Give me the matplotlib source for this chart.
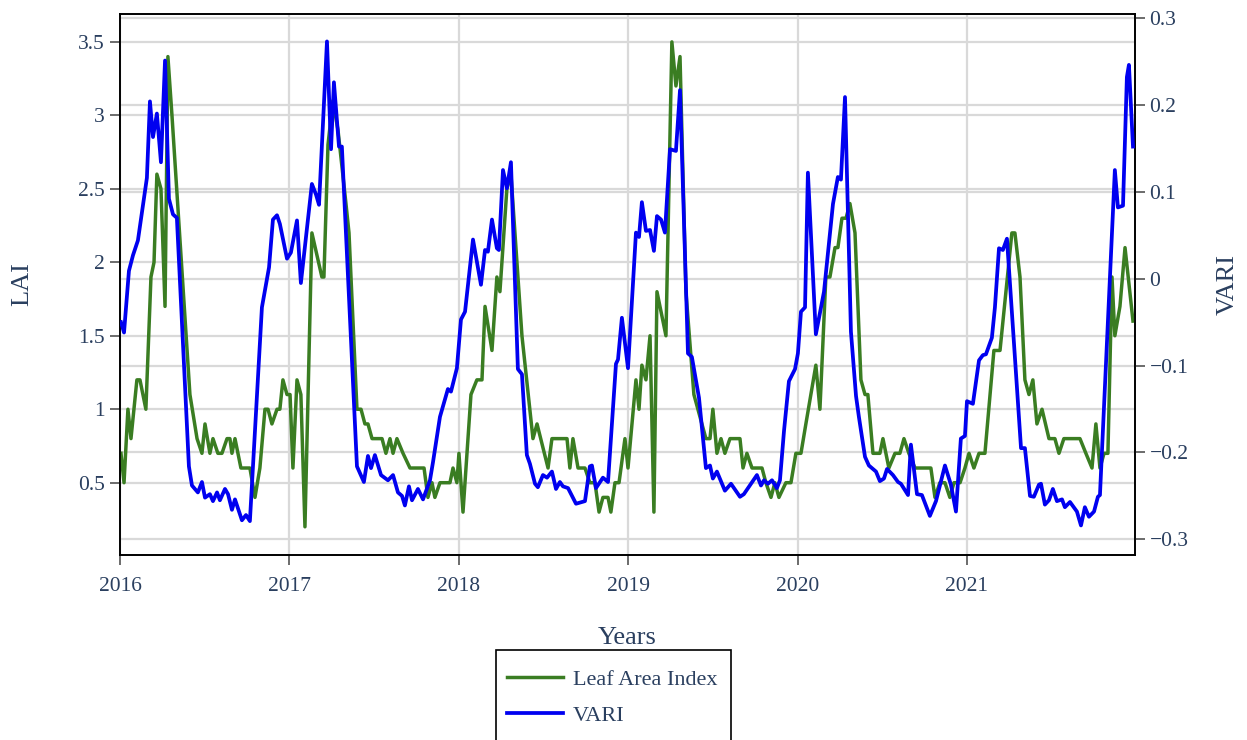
import matplotlib.pyplot as plt
from matplotlib.patches import Rectangle
from matplotlib.ticker import FuncFormatter
from matplotlib.transforms import blended_transform_factory

# Leaf Area Index (decimal year, value)
lai_years = [
    2016.006, 2016.024, 2016.047, 2016.065, 2016.100, 2016.118, 2016.153, 2016.183,
    2016.201, 2016.218, 2016.242, 2016.266, 2016.283, 2016.307, 2016.413, 2016.455,
    2016.484, 2016.502, 2016.531, 2016.549, 2016.578, 2016.602, 2016.632, 2016.649,
    2016.661, 2016.679, 2016.714, 2016.767, 2016.797, 2016.826, 2016.856, 2016.874,
    2016.897, 2016.927, 2016.944, 2016.962, 2016.986,
    2017.004, 2017.021, 2017.045, 2017.068, 2017.092, 2017.133, 2017.192, 2017.204,
    2017.228, 2017.257, 2017.287, 2017.334, 2017.352, 2017.399, 2017.423, 2017.446,
    2017.464, 2017.488, 2017.547, 2017.570, 2017.594, 2017.612, 2017.635, 2017.671,
    2017.712, 2017.795, 2017.818, 2017.842, 2017.859, 2017.889, 2017.948, 2017.966,
    2017.989,
    2018.001, 2018.025, 2018.072, 2018.107, 2018.137, 2018.155, 2018.196, 2018.225,
    2018.243, 2018.284, 2018.308, 2018.373, 2018.438, 2018.462, 2018.527, 2018.550,
    2018.639, 2018.656, 2018.674, 2018.704, 2018.745, 2018.774, 2018.804, 2018.828,
    2018.851, 2018.881, 2018.898, 2018.922, 2018.946, 2018.981, 2018.999,
    2019.046, 2019.064, 2019.081, 2019.105, 2019.129, 2019.152, 2019.170, 2019.223,
    2019.258, 2019.282, 2019.306, 2019.341, 2019.388, 2019.459, 2019.483, 2019.500,
    2019.524, 2019.548, 2019.571, 2019.601, 2019.660, 2019.678, 2019.701, 2019.731,
    2019.790, 2019.813, 2019.843, 2019.866, 2019.890, 2019.931, 2019.961, 2019.990,
    2020.020, 2020.049, 2020.108, 2020.132, 2020.167, 2020.191, 2020.221, 2020.238,
    2020.262, 2020.286, 2020.309, 2020.339, 2020.374, 2020.398, 2020.415, 2020.445,
    2020.486, 2020.504, 2020.539, 2020.575, 2020.604, 2020.628, 2020.657, 2020.693,
    2020.787, 2020.811, 2020.840, 2020.870, 2020.899, 2020.923, 2020.959, 2020.988,
    2021.012, 2021.041, 2021.071, 2021.106, 2021.159, 2021.195, 2021.265, 2021.283,
    2021.313, 2021.342, 2021.366, 2021.389, 2021.413, 2021.443, 2021.484, 2021.519,
    2021.543, 2021.572, 2021.667, 2021.702, 2021.738, 2021.761, 2021.785, 2021.809,
    2021.832, 2021.856, 2021.873, 2021.903, 2021.933, 2021.980,
]
lai_values = [
    0.7, 0.5, 1.0, 0.8, 1.2, 1.2, 1.0, 1.9,
    2.0, 2.6, 2.5, 1.7, 3.4, 3.0, 1.1, 0.8,
    0.7, 0.9, 0.7, 0.8, 0.7, 0.7, 0.8, 0.8,
    0.7, 0.8, 0.6, 0.6, 0.4, 0.6, 1.0, 1.0,
    0.9, 1.0, 1.0, 1.2, 1.1,
    1.1, 0.6, 1.2, 1.1, 0.2, 2.2, 1.9, 1.9,
    2.8, 3.1, 2.9, 2.4, 2.2, 1.0, 1.0, 0.9,
    0.9, 0.8, 0.8, 0.7, 0.8, 0.7, 0.8, 0.7,
    0.6, 0.6, 0.4, 0.5, 0.4, 0.5, 0.5, 0.6,
    0.5,
    0.7, 0.3, 1.1, 1.2, 1.2, 1.7, 1.4, 1.9,
    1.8, 2.5, 2.6, 1.5, 0.8, 0.9, 0.6, 0.8,
    0.8, 0.6, 0.8, 0.6, 0.6, 0.5, 0.5, 0.3,
    0.4, 0.4, 0.3, 0.5, 0.5, 0.8, 0.6,
    1.2, 1.0, 1.3, 1.2, 1.5, 0.3, 1.8, 1.5,
    3.5, 3.2, 3.4, 1.8, 1.1, 0.8, 0.8, 1.0,
    0.7, 0.8, 0.7, 0.8, 0.8, 0.6, 0.7, 0.6,
    0.6, 0.5, 0.4, 0.5, 0.4, 0.5, 0.5, 0.7,
    0.7, 0.9, 1.3, 1.0, 1.9, 1.9, 2.1, 2.1,
    2.3, 2.3, 2.4, 2.2, 1.2, 1.1, 1.1, 0.7,
    0.7, 0.8, 0.6, 0.7, 0.7, 0.8, 0.7, 0.6,
    0.6, 0.4, 0.5, 0.5, 0.4, 0.5, 0.5, 0.6,
    0.7, 0.6, 0.7, 0.7, 1.4, 1.4, 2.2, 2.2,
    1.9, 1.2, 1.1, 1.2, 0.9, 1.0, 0.8, 0.8,
    0.7, 0.8, 0.8, 0.7, 0.6, 0.9, 0.6, 0.7,
    0.7, 1.9, 1.5, 1.7, 2.1, 1.6,
]

# VARI (decimal year, value)
vari_years = [
    2016.006, 2016.024, 2016.053, 2016.077, 2016.106, 2016.159, 2016.177, 2016.195,
    2016.218, 2016.242, 2016.266, 2016.289, 2016.313, 2016.336, 2016.407, 2016.425,
    2016.460, 2016.484, 2016.502, 2016.531, 2016.549, 2016.573, 2016.590, 2016.620,
    2016.638, 2016.661, 2016.679, 2016.720, 2016.744, 2016.767, 2016.838, 2016.856,
    2016.880, 2016.903, 2016.927, 2016.944, 2016.986,
    2017.009, 2017.045, 2017.068, 2017.133, 2017.157, 2017.175, 2017.222, 2017.246,
    2017.263, 2017.293, 2017.310, 2017.399, 2017.417, 2017.440, 2017.464, 2017.482,
    2017.505, 2017.541, 2017.582, 2017.612, 2017.641, 2017.665, 2017.682, 2017.706,
    2017.724, 2017.759, 2017.789, 2017.830, 2017.848, 2017.889, 2017.936, 2017.954,
    2017.989,
    2018.013, 2018.037, 2018.084, 2018.131, 2018.155, 2018.172, 2018.196, 2018.225,
    2018.237, 2018.261, 2018.284, 2018.308, 2018.349, 2018.373, 2018.402, 2018.420,
    2018.450, 2018.467, 2018.497, 2018.521, 2018.550, 2018.574, 2018.597, 2018.615,
    2018.645, 2018.692, 2018.745, 2018.774, 2018.786, 2018.810, 2018.851, 2018.881,
    2018.928, 2018.940, 2018.963, 2018.999,
    2019.046, 2019.064, 2019.081, 2019.105, 2019.129, 2019.152, 2019.170, 2019.194,
    2019.217, 2019.247, 2019.282, 2019.306, 2019.353, 2019.376, 2019.418, 2019.459,
    2019.483, 2019.500, 2019.524, 2019.571, 2019.607, 2019.660, 2019.683, 2019.760,
    2019.784, 2019.802, 2019.825, 2019.849, 2019.878, 2019.896, 2019.920, 2019.949,
    2019.985,
    2020.002, 2020.020, 2020.044, 2020.061, 2020.108, 2020.156, 2020.209, 2020.238,
    2020.256, 2020.280, 2020.315, 2020.345, 2020.362, 2020.398, 2020.421, 2020.445,
    2020.463, 2020.486, 2020.510, 2020.528, 2020.563, 2020.593, 2020.610, 2020.652,
    2020.669, 2020.705, 2020.734, 2020.781, 2020.817, 2020.870, 2020.905, 2020.935,
    2020.964, 2020.988,
    2021.000, 2021.035, 2021.071, 2021.094, 2021.112, 2021.147, 2021.165, 2021.189,
    2021.212, 2021.236, 2021.319, 2021.342, 2021.372, 2021.395, 2021.425, 2021.437,
    2021.460, 2021.484, 2021.507, 2021.531, 2021.561, 2021.578, 2021.608, 2021.649,
    2021.673, 2021.696, 2021.720, 2021.750, 2021.773, 2021.785, 2021.873, 2021.891,
    2021.921, 2021.944, 2021.956, 2021.980,
]
vari_values = [
    -0.050, -0.062, 0.009, 0.027, 0.044, 0.116, 0.204, 0.163,
    0.190, 0.134, 0.251, 0.092, 0.074, 0.070, -0.216, -0.238,
    -0.246, -0.234, -0.252, -0.248, -0.256, -0.246, -0.255, -0.242,
    -0.248, -0.266, -0.254, -0.278, -0.272, -0.279, -0.033, -0.013,
    0.013, 0.068, 0.073, 0.063, 0.023,
    0.030, 0.067, -0.005, 0.109, 0.097, 0.085, 0.273, 0.149,
    0.226, 0.152, 0.152, -0.216, -0.224, -0.234, -0.204, -0.218,
    -0.203, -0.226, -0.232, -0.226, -0.246, -0.250, -0.261, -0.239,
    -0.255, -0.242, -0.254, -0.232, -0.211, -0.159, -0.127, -0.130,
    -0.103,
    -0.047, -0.038, 0.045, -0.007, 0.033, 0.031, 0.068, 0.035,
    0.033, 0.125, 0.104, 0.134, -0.104, -0.110, -0.203, -0.213,
    -0.236, -0.240, -0.226, -0.229, -0.222, -0.242, -0.234, -0.239,
    -0.241, -0.259, -0.256, -0.216, -0.215, -0.241, -0.229, -0.234,
    -0.098, -0.093, -0.045, -0.103,
    0.053, 0.048, 0.088, 0.055, 0.056, 0.032, 0.072, 0.068,
    0.053, 0.149, 0.147, 0.217, -0.086, -0.090, -0.137, -0.218,
    -0.215, -0.230, -0.222, -0.244, -0.236, -0.251, -0.248, -0.226,
    -0.238, -0.232, -0.236, -0.232, -0.241, -0.232, -0.175, -0.118,
    -0.104,
    -0.086, -0.038, -0.033, 0.122, -0.064, -0.015, 0.086, 0.117,
    0.114, 0.209, -0.061, -0.135, -0.159, -0.205, -0.215, -0.219,
    -0.222, -0.233, -0.230, -0.219, -0.226, -0.234, -0.236, -0.249,
    -0.191, -0.248, -0.249, -0.273, -0.256, -0.215, -0.237, -0.268,
    -0.184, -0.181,
    -0.141, -0.144, -0.094, -0.088, -0.087, -0.068, -0.033, 0.035,
    0.033, 0.046, -0.195, -0.195, -0.250, -0.251, -0.237, -0.236,
    -0.260, -0.255, -0.242, -0.256, -0.254, -0.263, -0.257, -0.268,
    -0.284, -0.263, -0.274, -0.268, -0.251, -0.249, 0.125, 0.082,
    0.084, 0.232, 0.246, 0.152,
]

year_ticks = [2016, 2017, 2018, 2019, 2020, 2021]
lai_ticks = [0.5, 1, 1.5, 2, 2.5, 3, 3.5]
vari_ticks = [-0.3, -0.2, -0.1, 0, 0.1, 0.2, 0.3]

text_color = '#2a3f5f'
grid_color = '#d9d9d9'
green = '#3a7d22'
blue = '#0000f0'

plt.rcParams['font.family'] = ['Liberation Serif', 'DejaVu Serif']

fig = plt.figure(figsize=(12.47, 7.40), dpi=100)
ax = fig.add_axes([0.0962, 0.25, 0.814, 0.7311])
ax2 = ax.twinx()

ax.plot(lai_years, lai_values, color=green, linewidth=2.5,
        label='Leaf Area Index', zorder=3)
ax2.plot(vari_years, vari_values, color=blue, linewidth=2.7,
         label='VARI', zorder=3)

# gridlines: both y axes get their own horizontal grid, all kept under the lines
ax.set_axisbelow(True)
ax.grid(True, color=grid_color, linewidth=1.6)
ax2.grid(False)
trans = blended_transform_factory(ax.transAxes, ax2.transData)
for v in vari_ticks:
    ax.plot([0, 1], [v, v], transform=trans, color=grid_color,
            linewidth=1.6, zorder=0.5)

ax.set_xlim(2016, 2021.992)
ax.set_ylim(0.008, 3.69)
ax2.set_ylim(-0.318, 0.3046)

ax.set_xticks(year_ticks)
ax.set_xticklabels([str(y) for y in year_ticks])
ax.set_yticks(lai_ticks)
ax2.set_yticks(vari_ticks)

fmt = FuncFormatter(lambda v, p: ('%g' % round(v, 3)).replace('-', '\u2212'))
ax.yaxis.set_major_formatter(fmt)
ax2.yaxis.set_major_formatter(fmt)

for a in (ax, ax2):
    for s in a.spines.values():
        s.set_color('black')
        s.set_linewidth(1.2)

ax.tick_params(axis='y', length=7, width=1.1, pad=4, labelsize=15.5,
               color='#444444', labelcolor=text_color)
ax.tick_params(axis='x', length=7, width=1.1, pad=9, labelsize=15.5,
               color='#444444', labelcolor=text_color)
ax2.tick_params(axis='y', length=7, width=1.1, pad=3.5, labelsize=15.5,
                color='#444444', labelcolor=text_color)

ax.set_ylabel('LAI', fontsize=19, color=text_color)
ax.yaxis.set_label_coords(-0.096, 0.5)
ax.yaxis.label.set_va('center')
ax2.set_ylabel('VARI', fontsize=19, color=text_color)
ax2.yaxis.set_label_coords(1.0916, 0.5)
ax2.yaxis.label.set_va('center')
ax.set_xlabel('Years', fontsize=19, color=text_color)
ax.xaxis.set_label_coords(0.5, -0.1645)
ax.xaxis.label.set_va('baseline')

# legend below the plot, its box runs off the bottom edge
fig.patches.append(Rectangle((496 / 1247, -0.027), 235 / 1247, 110 / 740,
                             transform=fig.transFigure, fill=False,
                             edgecolor='black', linewidth=1.2))
handles = ax.get_lines()[:1] + ax2.get_lines()
fig.legend(handles, [h.get_label() for h in handles], loc='upper left',
           bbox_to_anchor=(507 / 1247, 1 - 669 / 740), frameon=False,
           borderpad=0, borderaxespad=0, handlelength=2.5, handletextpad=0.45,
           labelspacing=0.72, fontsize=16, labelcolor=text_color)

fig.savefig('out.png', dpi=100)
